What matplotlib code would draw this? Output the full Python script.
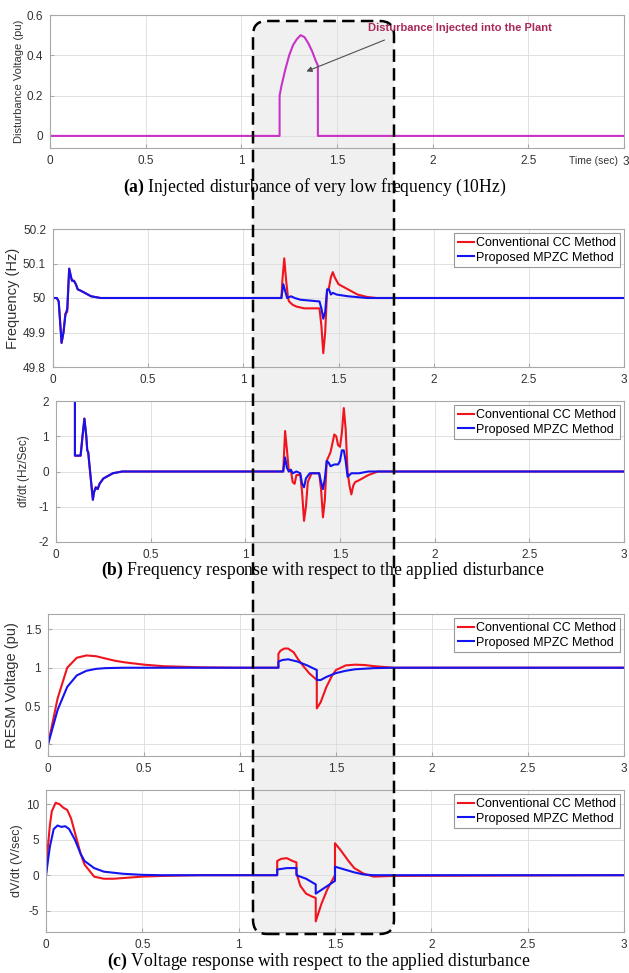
import numpy as np
import matplotlib
matplotlib.use("Agg")
import matplotlib.pyplot as plt
from matplotlib.patches import FancyBboxPatch
from matplotlib.transforms import IdentityTransform

W, H = 629, 973

# ---- data ----
# (a) injected disturbance
t_dist = [0, 1.2, 1.2, 1.21, 1.23, 1.25, 1.27, 1.29, 1.31, 1.33, 1.35, 1.37, 1.39, 1.40, 1.40, 3]
v_dist = [0, 0, 0.2, 0.25, 0.33, 0.40, 0.45, 0.48, 0.50, 0.49, 0.46, 0.42, 0.37, 0.35, 0, 0]

# frequency (Hz)
t_f_cc = [0, 0.02, 0.03, 0.045, 0.055, 0.065, 0.075, 0.085, 0.095, 0.10, 0.11, 0.12, 0.13, 0.15, 0.20, 0.25,
          1.2, 1.205, 1.215, 1.225, 1.235, 1.24, 1.25, 1.26, 1.28, 1.32, 1.40, 1.41, 1.42, 1.43, 1.44, 1.45,
          1.46, 1.47, 1.48, 1.50, 1.55, 1.60, 1.65, 1.70, 3]
f_cc = [50.0, 50.0, 49.99, 49.87, 49.90, 49.955, 49.96, 50.085, 50.06, 50.05, 50.05, 50.04, 50.025, 50.02, 50.005, 50.0,
        50.0, 50.05, 50.115, 50.05, 50.0, 49.99, 49.985, 49.98, 49.975, 49.97, 49.97, 49.92, 49.84, 49.90, 50.02, 50.03,
        50.06, 50.075, 50.06, 50.04, 50.025, 50.01, 50.003, 50.0, 50.0]
t_f_mp = [0, 0.02, 0.03, 0.045, 0.055, 0.065, 0.075, 0.085, 0.095, 0.10, 0.11, 0.12, 0.13, 0.15, 0.20, 0.25,
          1.2, 1.21, 1.22, 1.23, 1.25, 1.27, 1.30, 1.40, 1.41, 1.42, 1.43, 1.44, 1.45, 1.46, 1.47, 1.49,
          1.55, 1.65, 3]
f_mp = [50.0, 50.0, 49.99, 49.87, 49.90, 49.95, 49.97, 50.085, 50.06, 50.05, 50.05, 50.04, 50.025, 50.02, 50.005, 50.0,
        50.0, 50.04, 50.02, 50.0, 50.005, 50.0, 49.995, 49.99, 49.97, 49.94, 49.96, 50.025, 50.025, 50.01, 50.015, 50.01,
        50.005, 50.0, 50.0]

# df/dt (Hz/Sec)
t_d_cc = [0.1, 0.1, 0.13, 0.14, 0.15, 0.16, 0.165, 0.17, 0.18, 0.19, 0.195, 0.20, 0.21, 0.22, 0.23, 0.25, 0.30, 0.35,
          1.2, 1.21, 1.22, 1.23, 1.24, 1.25, 1.26, 1.27, 1.29, 1.30, 1.31, 1.32, 1.33, 1.35, 1.39, 1.40, 1.41,
          1.42, 1.43, 1.45, 1.47, 1.48, 1.49, 1.50, 1.51, 1.52, 1.53, 1.54, 1.55, 1.56, 1.57, 1.58, 1.60, 1.65,
          1.70, 3]
d_cc = [2.5, 0.45, 0.45, 1.0, 1.5, 1.0, 0.6, 0.55, 0.0, -0.55, -0.8, -0.6, -0.45, -0.5, -0.35, -0.2, -0.05, 0.0,
        0.0, 1.15, 0.6, 0.0, 0.05, -0.3, -0.35, -0.1, -0.1, -0.6, -1.4, -1.0, -0.3, -0.05, -0.05, -0.5, -1.3,
        -0.8, 0.3, 0.55, 1.05, 1.0, 0.75, 0.7, 1.1, 1.8, 1.2, 0.0, -0.4, -0.65, -0.4, -0.3, -0.25, -0.1,
        0.0, 0.0]
t_d_mp = [0.1, 0.1, 0.13, 0.14, 0.15, 0.16, 0.165, 0.17, 0.18, 0.19, 0.195, 0.20, 0.21, 0.22, 0.23, 0.25, 0.30, 0.35,
          1.2, 1.21, 1.22, 1.23, 1.24, 1.25, 1.27, 1.29, 1.30, 1.31, 1.32, 1.34, 1.39, 1.40, 1.41, 1.42, 1.43,
          1.44, 1.45, 1.47, 1.49, 1.50, 1.51, 1.52, 1.53, 1.54, 1.55, 1.56, 1.60, 1.65, 3]
d_mp = [2.5, 0.45, 0.45, 1.0, 1.5, 1.0, 0.6, 0.55, 0.0, -0.55, -0.8, -0.6, -0.45, -0.5, -0.35, -0.2, -0.05, 0.0,
        0.0, 0.4, 0.1, 0.0, 0.05, -0.05, 0.0, -0.05, -0.35, -0.45, -0.2, -0.05, -0.05, -0.3, -0.5, -0.2, 0.3,
        0.25, 0.15, 0.2, 0.2, 0.3, 0.6, 0.6, 0.3, -0.15, -0.1, -0.05, -0.05, 0.0, 0.0]

# RESM voltage (pu)
t_v_cc = [0, 0.05, 0.10, 0.15, 0.20, 0.25, 0.30, 0.35, 0.40, 0.50, 0.60, 0.80, 1.0, 1.2, 1.2, 1.21, 1.23, 1.25,
          1.28, 1.30, 1.33, 1.36, 1.40, 1.40, 1.42, 1.45, 1.48, 1.50, 1.55, 1.60, 1.65, 1.70, 1.80, 3]
v_cc = [0, 0.6, 1.0, 1.13, 1.16, 1.15, 1.12, 1.09, 1.07, 1.04, 1.02, 1.005, 1.0, 1.0, 1.18, 1.22, 1.25, 1.25,
        1.2, 1.12, 1.02, 0.93, 0.84, 0.47, 0.55, 0.75, 0.90, 0.97, 1.03, 1.04, 1.035, 1.02, 1.0, 1.0]
t_v_mp = [0, 0.05, 0.10, 0.15, 0.20, 0.25, 0.30, 0.40, 1.2, 1.2, 1.22, 1.25, 1.30, 1.35, 1.40, 1.40, 1.42,
          1.45, 1.50, 1.55, 1.60, 1.70, 1.80, 3]
v_mp = [0, 0.45, 0.75, 0.90, 0.96, 0.985, 0.995, 1.0, 1.0, 1.08, 1.10, 1.11, 1.08, 1.03, 0.97, 0.84, 0.84,
        0.88, 0.93, 0.96, 0.98, 0.995, 1.0, 1.0]

# dV/dt (V/sec)
t_dv_cc = [0, 0.01, 0.02, 0.03, 0.05, 0.07, 0.09, 0.11, 0.13, 0.15, 0.18, 0.20, 0.25, 0.30, 0.35, 0.40, 0.50,
           0.60, 0.80, 1.2, 1.2, 1.22, 1.25, 1.28, 1.30, 1.30, 1.32, 1.35, 1.38, 1.40, 1.40, 1.43, 1.46, 1.49,
           1.50, 1.50, 1.53, 1.57, 1.60, 1.65, 1.70, 1.80, 3]
dv_cc = [0, 4, 7, 9, 10.2, 10, 9.5, 9.2, 8, 6, 3, 1.5, -0.2, -0.5, -0.5, -0.4, -0.2,
         -0.1, 0, 0, 2, 2.3, 2.4, 2, 1.8, 0.3, -1.5, -2.6, -3.0, -3.2, -6.5, -4, -2, -0.5,
         0, 4.5, 3.5, 2, 1, 0.2, -0.2, -0.1, 0]
t_dv_mp = [0, 0.02, 0.04, 0.06, 0.08, 0.10, 0.12, 0.15, 0.18, 0.20, 0.25, 0.30, 0.40, 0.50, 0.60, 1.2, 1.2,
           1.25, 1.30, 1.30, 1.35, 1.40, 1.40, 1.45, 1.50, 1.50, 1.55, 1.60, 1.65, 1.70, 3]
dv_mp = [0, 4, 6.5, 7, 6.8, 6.9, 6.5, 5, 3, 2, 1, 0.5, 0.2, 0.05, 0, 0, 0.8,
         1.0, 1.0, 0, -0.5, -1.3, -2.6, -1.7, -0.8, 1.2, 0.8, 0.4, 0.1, 0, 0]

x_ticks = [0, 0.5, 1, 1.5, 2, 2.5, 3]
x_tick_labels = ["0", "0.5", "1", "1.5", "2", "2.5", "3"]
legend_labels = ["Conventional CC Method", "Proposed MPZC Method"]

RED = "#f0141e"
BLUE = "#1414f0"
MAG = "#c832c8"

plt.rcParams['font.family'] = ['Liberation Sans', 'DejaVu Sans']
plt.rcParams['axes.unicode_minus'] = False
plt.rcParams['mathtext.fontset'] = 'custom'
plt.rcParams['mathtext.bf'] = 'Liberation Serif:bold'
plt.rcParams['mathtext.rm'] = 'Liberation Serif'

fig = plt.figure(figsize=(W / 100, H / 100), dpi=100)


def px_axes(left, top, right, bottom):
    ax = fig.add_axes([left / W, 1 - bottom / H, (right - left) / W, (bottom - top) / H])
    ax.set_facecolor("none")
    ax.set_xlim(0, 3)
    ax.set_xticks(x_ticks)
    ax.set_xticklabels(x_tick_labels)
    ax.grid(True, color="#dcdcdc", linewidth=0.6)
    ax.set_axisbelow(True)
    for s in ax.spines.values():
        s.set_color("#a8a8a8")
        s.set_linewidth(0.8)
    ax.tick_params(direction="in", length=3, color="#a8a8a8", labelcolor="#333333", labelsize=8.5, pad=5)
    return ax


def pair(ax, t1, y1, t2, y2):
    ax.plot(t1, y1, color=RED, lw=1.5, label=legend_labels[0])
    ax.plot(t2, y2, color=BLUE, lw=1.5, label=legend_labels[1])
    leg = ax.legend(loc="upper right", fontsize=9, frameon=True, fancybox=False, handlelength=1.3,
                    handletextpad=0.15, borderpad=0.3, labelspacing=0.2, borderaxespad=0.35)
    leg.get_frame().set_edgecolor("#808080")
    leg.get_frame().set_linewidth(0.8)


# gray highlighted window behind every panel
win = FancyBboxPatch((253, H - 934), 141, 913, boxstyle="round,pad=0,rounding_size=14",
                     transform=IdentityTransform(), facecolor="#f0f0f0", edgecolor="none", zorder=-5)
fig.patches.append(win)

# (a)
ax1 = px_axes(50, 15, 624, 148)
ax1.plot(t_dist, v_dist, color=MAG, lw=1.5)
ax1.set_ylim(-0.06, 0.6)
ax1.set_yticks([0, 0.2, 0.4, 0.6])
ax1.set_yticklabels(["0", "0.2", "0.4", "0.6"])
ax1.set_xticklabels(["0", "0.5", "1", "1.5", "2", "2.5", ""])
ax1.set_ylabel("Disturbance Voltage (pu)", fontsize=8, color="#333333", labelpad=2)
ax1.text(2.71, -0.1, "Time (sec)", fontsize=7.5, color="#333333", ha="left", va="top")
ax1.text(2.99, -0.1, "3", fontsize=8.5, color="#333333", ha="left", va="top", clip_on=False)
ax1.annotate("Disturbance Injected into the Plant", xy=(1.34, 0.32), xytext=(2.14, 0.535),
             fontsize=8, fontweight="bold", color="#a8285a", ha="center", va="center",
             arrowprops=dict(arrowstyle="-|>", color="#505050", lw=0.8, shrinkA=8, shrinkB=0,
                             mutation_scale=8, relpos=(0.2, 0.1)))

# (b) frequency
ax2 = px_axes(53, 229, 624, 367)
pair(ax2, t_f_cc, f_cc, t_f_mp, f_mp)
ax2.set_ylim(49.8, 50.2)
ax2.set_yticks([49.8, 49.9, 50.0, 50.1, 50.2])
ax2.set_yticklabels(["49.8", "49.9", "50", "50.1", "50.2"])
ax2.set_ylabel("Frequency (Hz)", fontsize=10.5, color="#333333", labelpad=2)

ax3 = px_axes(56, 401, 624, 542)
pair(ax3, t_d_cc, d_cc, t_d_mp, d_mp)
ax3.set_ylim(-2, 2)
ax3.set_yticks([-2, -1, 0, 1, 2])
ax3.set_ylabel("df/dt (Hz/Sec)", fontsize=8.5, color="#333333", labelpad=6)

# (c) voltage
ax4 = px_axes(48, 614, 624, 756)
pair(ax4, t_v_cc, v_cc, t_v_mp, v_mp)
ax4.set_ylim(-0.15, 1.7)
ax4.set_yticks([0, 0.5, 1, 1.5])
ax4.set_yticklabels(["0", "0.5", "1", "1.5"])
ax4.set_ylabel("RESM Voltage (pu)", fontsize=10.5, color="#333333", labelpad=4)

ax5 = px_axes(46, 790, 624, 932)
pair(ax5, t_dv_cc, dv_cc, t_dv_mp, dv_mp)
ax5.set_ylim(-8, 12)
ax5.set_yticks([-5, 0, 5, 10])
ax5.set_ylabel("dV/dt (V/sec)", fontsize=9, color="#333333", labelpad=2)

# dashed outline of the window, drawn on top
win_edge = FancyBboxPatch((253, H - 934), 141, 913, boxstyle="round,pad=0,rounding_size=14",
                          transform=IdentityTransform(), facecolor="none", edgecolor="black",
                          linewidth=1.8, linestyle=(0, (5, 2.5)), zorder=10)
fig.patches.append(win_edge)

# captions
captions = [(r"$\mathbf{(a)}$ Injected disturbance of very low frequency (10Hz)", 315, 192),
            (r"$\mathbf{(b)}$ Frequency response with respect to the applied disturbance", 323, 575),
            (r"$\mathbf{(c)}$ Voltage response with respect to the applied disturbance", 319, 966)]
for txt, xc, yb in captions:
    fig.text(xc / W, 1 - yb / H, txt, fontsize=12.7, family="Liberation Serif",
             ha="center", va="baseline")

fig.savefig("out.png", dpi=100)
